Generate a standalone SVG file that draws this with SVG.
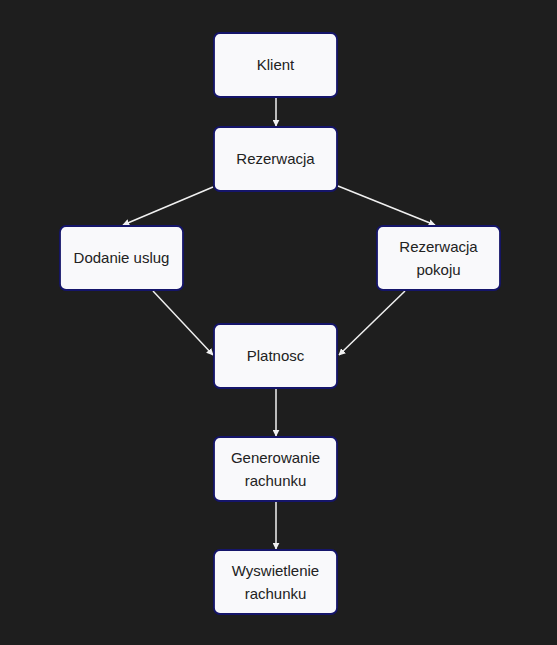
<svg xmlns="http://www.w3.org/2000/svg" width="557" height="645" viewBox="0 0 557 645">
<defs>
<style>
.node rect{fill:#f9f9fb;stroke:#15156a;stroke-width:1.8}
.node text{font-family:"Liberation Sans",Arial,sans-serif;font-size:15px;fill:#222;text-anchor:middle}
.edges line{stroke:#f0f0f0;stroke-width:1.5;marker-end:url(#arr)}
</style>
<marker id="arr" viewBox="0 0 10 10" refX="9" refY="5" markerWidth="7" markerHeight="7" markerUnits="userSpaceOnUse" orient="auto"><path d="M0,0L10,5L0,10z" fill="#f0f0f0"/></marker>
</defs>
<rect width="557" height="645" fill="#1e1e1e"/>
<g class="edges">
<line x1="276" y1="98" x2="276" y2="126"/>
<line x1="213" y1="187" x2="123" y2="225"/>
<line x1="338" y1="186" x2="435" y2="225"/>
<line x1="153" y1="291" x2="213" y2="355"/>
<line x1="405" y1="291" x2="339" y2="355"/>
<line x1="276" y1="389" x2="276" y2="436"/>
<line x1="276" y1="502" x2="276" y2="549"/>
</g>
<g id="klient" class="node"><rect x="214" y="33" width="123" height="64" rx="6"/><text x="275.5" y="70">Klient</text></g>
<g id="rezerwacja" class="node"><rect x="214" y="127" width="123" height="64" rx="6"/><text x="275.5" y="164">Rezerwacja</text></g>
<g id="dodanie" class="node"><rect x="60" y="226" width="123" height="64" rx="6"/><text x="121.5" y="263">Dodanie uslug</text></g>
<g id="pokoj" class="node"><rect x="377" y="226" width="123" height="64" rx="6"/><text x="438.5" y="252">Rezerwacja</text><text x="438.5" y="275">pokoju</text></g>
<g id="platnosc" class="node"><rect x="214" y="324" width="123" height="64" rx="6"/><text x="275.5" y="361">Platnosc</text></g>
<g id="generowanie" class="node"><rect x="214" y="437" width="123" height="64" rx="6"/><text x="275.5" y="463">Generowanie</text><text x="275.5" y="486">rachunku</text></g>
<g id="wyswietlenie" class="node"><rect x="214" y="550" width="123" height="64" rx="6"/><text x="275.5" y="576">Wyswietlenie</text><text x="275.5" y="599">rachunku</text></g>
</svg>
